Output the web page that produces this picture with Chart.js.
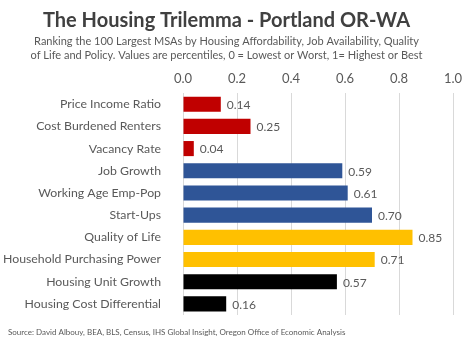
<!DOCTYPE html>
<html>
<head>
<meta charset="utf-8">
<script src="https://cdn.jsdelivr.net/npm/chart.js@4"></script>
<style>
  html, body { margin: 0; padding: 0; background: #fff; }
  #wrap { width: 470px; height: 344px; }
</style>
</head>
<body>
<div id="wrap"><canvas id="trilemma" width="470" height="344"></canvas></div>
<script>
// Percentile scores for Portland OR-WA, one bar per metric
const metrics = [
  'Price Income Ratio',
  'Cost Burdened Renters',
  'Vacancy Rate',
  'Job Growth',
  'Working Age Emp-Pop',
  'Start-Ups',
  'Quality of Life',
  'Household Purchasing Power',
  'Housing Unit Growth',
  'Housing Cost Differential'
];
const scores = [0.14, 0.25, 0.04, 0.59, 0.61, 0.70, 0.85, 0.71, 0.57, 0.16];
// group colours: affordability, jobs, quality of life, policy
const barColors = [
  '#C00000', '#C00000', '#C00000',
  '#2F5597', '#2F5597', '#2F5597',
  '#FFC000', '#FFC000',
  '#000000', '#000000'
];
const xTicks = [0, 0.2, 0.4, 0.6, 0.8, 1.0];

const FONT = 'Lato, "Open Sans", sans-serif';
const GREY = '#595959';

// prints the value just past the end of each bar
const valueLabels = {
  id: 'valueLabels',
  afterDatasetsDraw(chart) {
    const ctx = chart.ctx;
    const meta = chart.getDatasetMeta(0);
    ctx.save();
    ctx.font = '12px ' + FONT;
    ctx.fillStyle = GREY;
    ctx.textAlign = 'left';
    ctx.textBaseline = 'middle';
    meta.data.forEach((bar, i) => {
      ctx.fillText(scores[i].toFixed(2), bar.x + 6, bar.y + 1);
    });
    ctx.restore();
  }
};

// source line under the plot
const sourceNote = {
  id: 'sourceNote',
  afterDraw(chart) {
    const ctx = chart.ctx;
    ctx.save();
    ctx.font = '8px ' + FONT;
    ctx.fillStyle = GREY;
    ctx.textAlign = 'left';
    ctx.textBaseline = 'middle';
    ctx.fillText('Source: David Albouy, BEA, BLS, Census, IHS Global Insight, Oregon Office of Economic Analysis', 8, 332);
    ctx.restore();
  }
};

new Chart(document.getElementById('trilemma'), {
  type: 'bar',
  data: {
    labels: metrics,
    datasets: [{
      data: scores,
      backgroundColor: barColors,
      borderWidth: 0,
      barPercentage: 0.68,
      categoryPercentage: 1
    }]
  },
  options: {
    indexAxis: 'y',
    responsive: false,
    animation: false,
    layout: { padding: { left: 0, right: 17, top: 9, bottom: 29 } },
    plugins: {
      legend: { display: false },
      tooltip: { enabled: false },
      title: {
        display: true,
        text: 'The Housing Trilemma - Portland OR-WA',
        color: '#404040',
        font: { family: FONT, size: 20, weight: 'bold' },
        padding: { top: 0, bottom: 2 }
      },
      subtitle: {
        display: true,
        text: [
          'Ranking the 100 Largest MSAs by Housing Affordability, Job Availability, Quality',
          'of Life and Policy. Values are percentiles, 0 = Lowest or Worst, 1= Highest or Best'
        ],
        color: GREY,
        font: { family: FONT, size: 11, lineHeight: 1.25 },
        padding: { top: 0, bottom: 3 }
      }
    },
    scales: {
      x: {
        position: 'top',
        min: 0,
        max: 1,
        afterBuildTicks(scale) {
          scale.ticks = xTicks.map(v => ({ value: v }));
        },
        ticks: {
          color: GREY,
          font: { family: FONT, size: 13 },
          padding: 6,
          callback: v => Number(v).toFixed(1)
        },
        grid: { color: '#D9D9D9', drawTicks: false, lineWidth: 1 },
        border: { display: false }
      },
      y: {
        afterFit(scale) { scale.width = 183; },
        ticks: {
          color: GREY,
          font: { family: FONT, size: 12.3 },
          padding: 14
        },
        grid: { display: false },
        border: { display: false }
      }
    }
  },
  plugins: [valueLabels, sourceNote]
});
</script>
</body>
</html>
